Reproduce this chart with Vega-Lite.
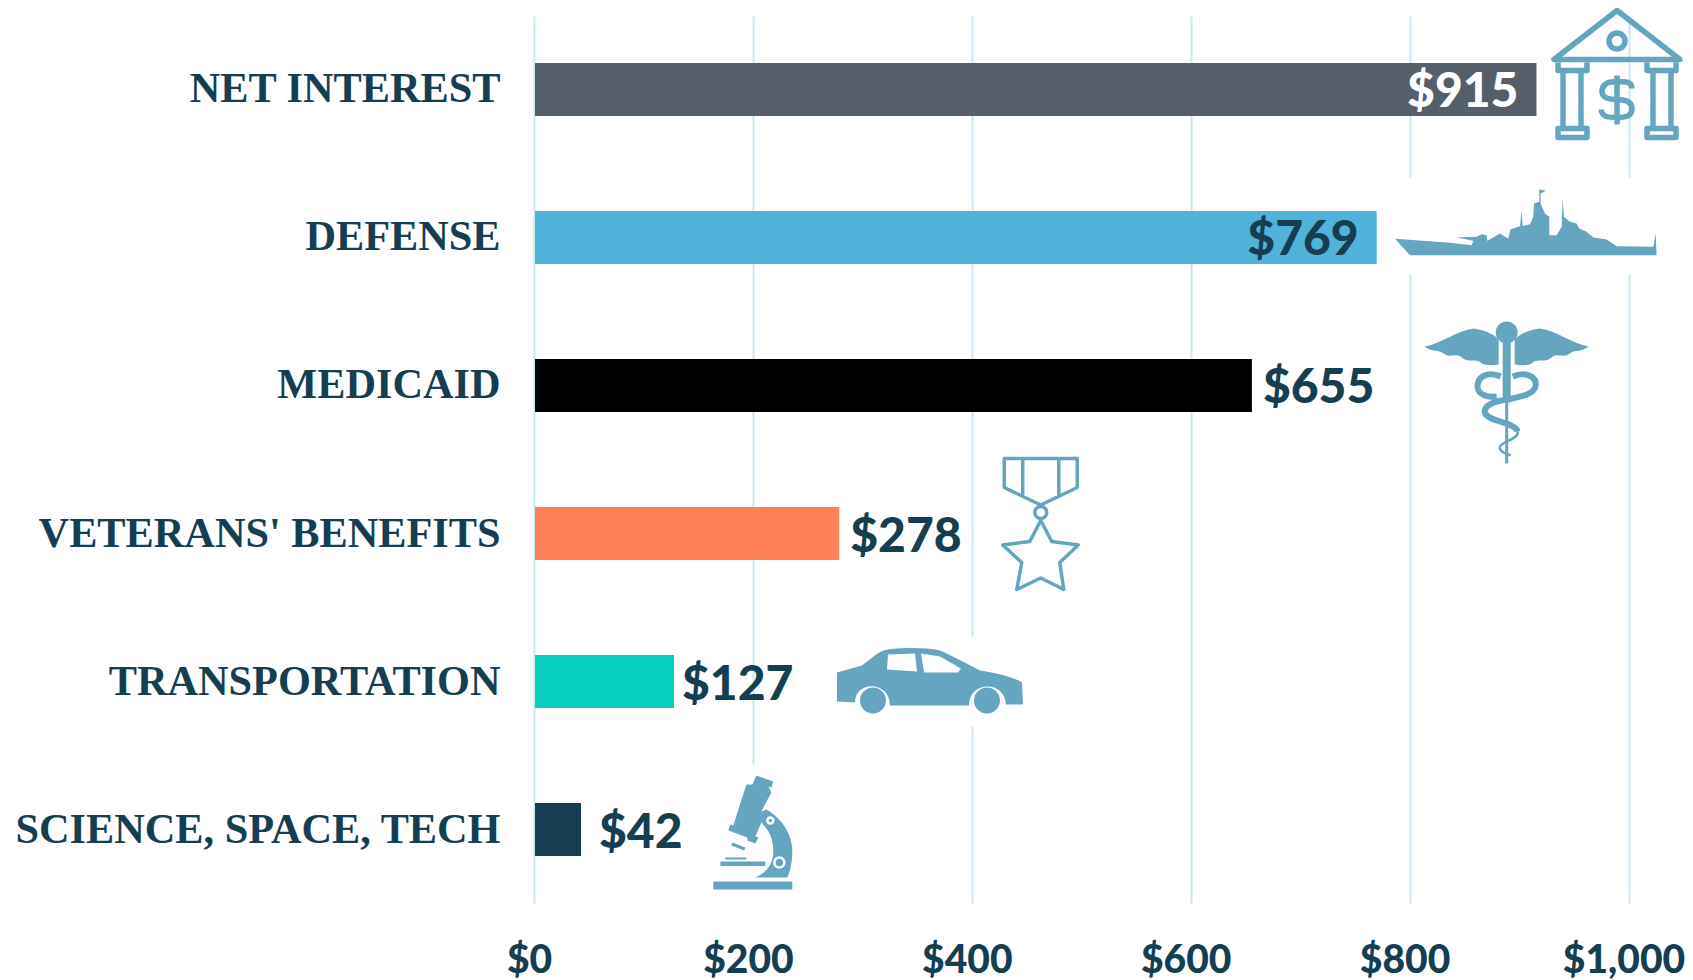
{
"$schema":"https://vega.github.io/schema/vega-lite/v6.json",
"width":1094.5,"height":887,
"autosize":{"type":"none"},
"padding":{"left":534,"top":16,"right":64,"bottom":77},
"background":"white",
"config":{"view":{"stroke":null}},
"datasets":{
"bars":[
{"category":"NET INTEREST","value":915},
{"category":"DEFENSE","value":769},
{"category":"MEDICAID","value":655},
{"category":"VETERANS' BENEFITS","value":278},
{"category":"TRANSPORTATION","value":127},
{"category":"SCIENCE, SPACE, TECH","value":42}],
"icons":[
{"category":"NET INTEREST","icon":"bank","x":989.5},
{"category":"DEFENSE","icon":"ship","x":905.4},
{"category":"MEDICAID","icon":"caduceus","x":888.7},
{"category":"VETERANS' BENEFITS","icon":"medal","x":463},
{"category":"TRANSPORTATION","icon":"car","x":361.8},
{"category":"SCIENCE, SPACE, TECH","icon":"microscope","x":200.4}]
},
"data":{"name":"bars"},
"encoding":{
"y":{"field":"category","type":"nominal","title":null,
"scale":{"domain":["NET INTEREST","DEFENSE","MEDICAID","VETERANS' BENEFITS","TRANSPORTATION","SCIENCE, SPACE, TECH"],"paddingInner":0.642,"paddingOuter":0.3176},
"axis":{"domain":false,"ticks":false,"grid":false,"labelPadding":34,"labelOffset":0,"labelFont":"Liberation Serif","labelFontWeight":"bold","labelFontSize":42.3,"labelColor":"#153e52","labelLimit":600}}
},
"layer":[
{"mark":{"type":"bar","xOffset":1},
"encoding":{
"x":{"field":"value","type":"quantitative","title":null,
"scale":{"domain":[0,1000],"nice":false},
"axis":{"values":[0,200,400,600,800,1000],"format":"$,.0f","domain":false,"ticks":false,"grid":true,"gridColor":"#cbe7f3","gridWidth":2,"labelFont":"Lato","labelFontWeight":900,"labelFontSize":39,"labelColor":"#153e52","labelPadding":38,"labelOffset":-5,"labelFlush":false,"labelOverlap":false,"labelBound":false}},
"color":{"field":"category","type":"nominal","legend":null,
"scale":{"domain":["NET INTEREST","DEFENSE","MEDICAID","VETERANS' BENEFITS","TRANSPORTATION","SCIENCE, SPACE, TECH"],"range":["#555f6a","#52b3da","#000000","#fc8158","#07cfbd","#153e52"]}}
}},
{"transform":[{"filter":"datum.value==915"}],"mark":{"type":"text","align":"right","baseline":"middle","dx":-17,"dy":4,"font":"Lato","fontWeight":900,"fontSize":48,"fill":"white"},"encoding":{"x":{"field":"value","type":"quantitative"},"text":{"field":"value","type":"quantitative","format":"$,.0f"}}},
{"transform":[{"filter":"datum.value==769"}],"mark":{"type":"text","align":"right","baseline":"middle","dx":-17,"dy":4,"font":"Lato","fontWeight":900,"fontSize":48,"fill":"#153e52"},"encoding":{"x":{"field":"value","type":"quantitative"},"text":{"field":"value","type":"quantitative","format":"$,.0f"}}},
{"transform":[{"filter":"datum.value==655||datum.value==278"}],"mark":{"type":"text","align":"left","baseline":"middle","dx":12,"dy":4,"font":"Lato","fontWeight":900,"fontSize":48,"fill":"#153e52"},"encoding":{"x":{"field":"value","type":"quantitative"},"text":{"field":"value","type":"quantitative","format":"$,.0f"}}},
{"transform":[{"filter":"datum.value==127"}],"mark":{"type":"text","align":"left","baseline":"middle","dx":9,"dy":4,"font":"Lato","fontWeight":900,"fontSize":48,"fill":"#153e52"},"encoding":{"x":{"field":"value","type":"quantitative"},"text":{"field":"value","type":"quantitative","format":"$,.0f"}}},
{"transform":[{"filter":"datum.value==42"}],"mark":{"type":"text","align":"left","baseline":"middle","dx":19,"dy":4,"font":"Lato","fontWeight":900,"fontSize":48,"fill":"#153e52"},"encoding":{"x":{"field":"value","type":"quantitative"},"text":{"field":"value","type":"quantitative","format":"$,.0f"}}},

{"data":{"name":"icons"},"transform":[{"filter":"datum.icon=='bank'"}],
"mark":{"type":"point","size":4,"opacity":1,"filled":false,"stroke":"#65a5c0","strokeWidth":5.5,"strokeJoin":"round","shape":"M0,-79 L-63,-30 L63,-30 Z M8,-48.5 A8,8 0 1 1 -8,-48.5 A8,8 0 1 1 8,-48.5 Z M-59,-27 L-59,-19 L-30,-19 L-30,-27 M-54,-19 L-54,39 M-36,-19 L-36,39 M-59,39 L-30,39 L-30,48 L-59,48 Z M30,-27 L30,-19 L59,-19 L59,-27 M36,-19 L36,39 M54,-19 L54,39 M30,39 L59,39 L59,48 L30,48 Z M0,-14 L0,35 M15,-1 C15,-8 8,-8 0,-8 C-8,-8 -15,-6 -15,2 C-15,9 -8,10 0,10 C8,10 15,12 15,19 C15,27 8,28 0,28 C-8,28 -15,28 -16,20"},
"encoding":{"x":{"field":"x","type":"quantitative"}}},

{"data":{"name":"icons"},"transform":[{"filter":"datum.icon=='ship'"}],
"mark":{"type":"point","size":4,"opacity":1,"filled":true,"fill":"white","stroke":null,"shape":"M-137,-60 L137,-60 L137,37 L-137,37 Z"},
"encoding":{"x":{"field":"x","type":"quantitative"}}},
{"data":{"name":"icons"},"transform":[{"filter":"datum.icon=='ship'"}],
"mark":{"type":"point","size":0.4444,"opacity":1,"filled":true,"fill":"#65a5c0","stroke":null,"shape":"M-390,4 L-225,16 L-160,23 L-155,10 L-205,0 L-145,-2 L-130,-10 L-115,-7 L-113,10 L-95,0 L-75,-12 L-60,-2 L-50,3 L-43,-25 L-15,-34 L-10,-82 L-7,-34 L15,-40 L25,-62 L27,-102 L43,-107 L43,-144 L63,-140 L47,-132 L47,-102 L60,-72 L73,-62 L73,-7 L95,-7 L110,-32 L113,-117 L117,-62 L135,-47 L155,-42 L163,-27 L185,-17 L205,0 L245,6 L275,26 L385,28 L392,-12 L395,53 L385,53 L-345,53 Z"},
"encoding":{"x":{"field":"x","type":"quantitative"}}},

{"data":{"name":"icons"},"transform":[{"filter":"datum.icon=='caduceus'"}],
"mark":{"type":"point","size":4,"opacity":1,"filled":true,"fill":"#65a5c0","stroke":null,"shape":"M11,-53 A11,11 0 1 1 -11,-53 A11,11 0 1 1 11,-53 Z M-4,-53 L4,-53 L4,17 L-4,17 Z M-1.5,17 L1.5,17 L1.5,78 L-1.5,78 Z M-82,-39 C-65,-42 -50,-55 -33,-57 C-20,-55 -10,-50 -8,-45 L-8,-21 C-15,-20 -20,-20 -25,-22 C-30,-28 -38,-22 -45,-28 C-50,-33 -58,-27 -63,-32 C-68,-36 -75,-33 -82,-39 Z M82,-39 C65,-42 50,-55 33,-57 C20,-55 10,-50 8,-45 L8,-21 C15,-20 20,-20 25,-22 C30,-28 38,-22 45,-28 C50,-33 58,-27 63,-32 C68,-36 75,-33 82,-39 Z"},
"encoding":{"x":{"field":"x","type":"quantitative"}}},
{"data":{"name":"icons"},"transform":[{"filter":"datum.icon=='caduceus'"}],
"mark":{"type":"point","size":4,"opacity":1,"filled":false,"stroke":"#65a5c0","strokeWidth":6,"shape":"M-6,-9 C-20,-15 -30,-8 -29,2 C-28,10 -18,12 -10,11 M6,-9 C20,-15 30,-8 29,0 C28,10 10,12 -5,15 C-15,17 -22,20 -22,26 C-22,36 8,36 11,46"},
"encoding":{"x":{"field":"x","type":"quantitative"}}},
{"data":{"name":"icons"},"transform":[{"filter":"datum.icon=='caduceus'"}],
"mark":{"type":"point","size":4,"opacity":1,"filled":false,"stroke":"#65a5c0","strokeWidth":2.5,"shape":"M11,46 C13,54 -7,56 -7,62 C-7,67 0,68 4,70"},
"encoding":{"x":{"field":"x","type":"quantitative"}}},

{"data":{"name":"icons"},"transform":[{"filter":"datum.icon=='medal'"}],
"mark":{"type":"point","size":4,"opacity":1,"filled":false,"stroke":"#65a5c0","strokeWidth":3.5,"strokeJoin":"round","shape":"M-36.5,-75 L36.5,-75 L36.5,-46 L0,-28.5 L-36.5,-46 Z M-18,-75 L-18,-37 M18,-75 L18,-37 M6,-21 A6,6 0 1 1 -6,-21 A6,6 0 1 1 6,-21 Z M0,-13 L11,8 L37.5,11.5 L19,29 L23,56 L0,44.5 L-24,56 L-19,29 L-38,11.5 L-11,8 Z"},
"encoding":{"x":{"field":"x","type":"quantitative"}}},

{"data":{"name":"icons"},"transform":[{"filter":"datum.icon=='car'"}],
"mark":{"type":"point","size":4,"opacity":1,"filled":true,"fill":"white","stroke":null,"shape":"M-105,-45 L105,-45 L105,45 L-105,45 Z"},
"encoding":{"x":{"field":"x","type":"quantitative"}}},
{"data":{"name":"icons"},"transform":[{"filter":"datum.icon=='car'"}],
"mark":{"type":"point","size":4,"opacity":1,"filled":true,"fill":"#65a5c0","stroke":null,"shape":"M-93,-9 L-68,-16 C-58,-23 -52,-31 -42,-32 C-25,-34 -5,-34 10,-31 C22,-26 38,-17 50,-11 C65,-9 85,-4 92,1 L93,23 L76,23 C75,-1 39,-1 39,24 L-40,24 C-40,-1 -75,-1 -75,21 L-93,20 Z M-42,-27 L-43,-12 L-13,-10 L-15,-28 Z M-9,-28 L-6,-9 L28,-9 L31,-13 L10,-25 Z M-44,19 A13,13 0 1 1 -70,19 A13,13 0 1 1 -44,19 Z M70,19 A13,13 0 1 1 44,19 A13,13 0 1 1 70,19 Z"},
"encoding":{"x":{"field":"x","type":"quantitative"}}},

{"data":{"name":"icons"},"transform":[{"filter":"datum.icon=='microscope'"}],
"mark":{"type":"point","size":4,"opacity":1,"filled":true,"fill":"white","stroke":null,"shape":"M-52,-65 L52,-65 L52,75 L-52,75 Z"},
"encoding":{"x":{"field":"x","type":"quantitative"}}},
{"data":{"name":"icons"},"transform":[{"filter":"datum.icon=='microscope'"}],
"mark":{"type":"point","size":4,"opacity":1,"filled":true,"fill":"#65a5c0","stroke":null,"shape":"M3,-54 L20,-48 L18,-42 L15,-43 L18,-37 L8,-18 L13,-20 C27,-12 39,3 39,22 C39,32 37,41 34,48 L2,48 C12,44 20,35 20,22 C20,9 16,1 8,-7 L2,7 L5,8 L2,14 L-6,11 L-6,8 L-25,1 L-23,-5 L-20,-4 L-7,-45 L-1,-45 Z M-40,52 L39,52 L39,60 L-40,60 Z M-33,32 L12,32 L12,36.5 L-33,36.5 Z M-28,28 L-7,28 L-7,30 L-28,30 Z M-21,13 L-8,18 L-9,21 L-22,16 Z"},
"encoding":{"x":{"field":"x","type":"quantitative"}}},
{"data":{"name":"icons"},"transform":[{"filter":"datum.icon=='microscope'"}],
"mark":{"type":"point","size":4,"opacity":1,"filled":false,"stroke":"white","strokeWidth":2.5,"shape":"M20,-9 A3,3 0 1 1 14,-9 A3,3 0 1 1 20,-9 Z M31,33 A5,5 0 1 1 21,33 A5,5 0 1 1 31,33 Z"},
"encoding":{"x":{"field":"x","type":"quantitative"}}}
]
}
